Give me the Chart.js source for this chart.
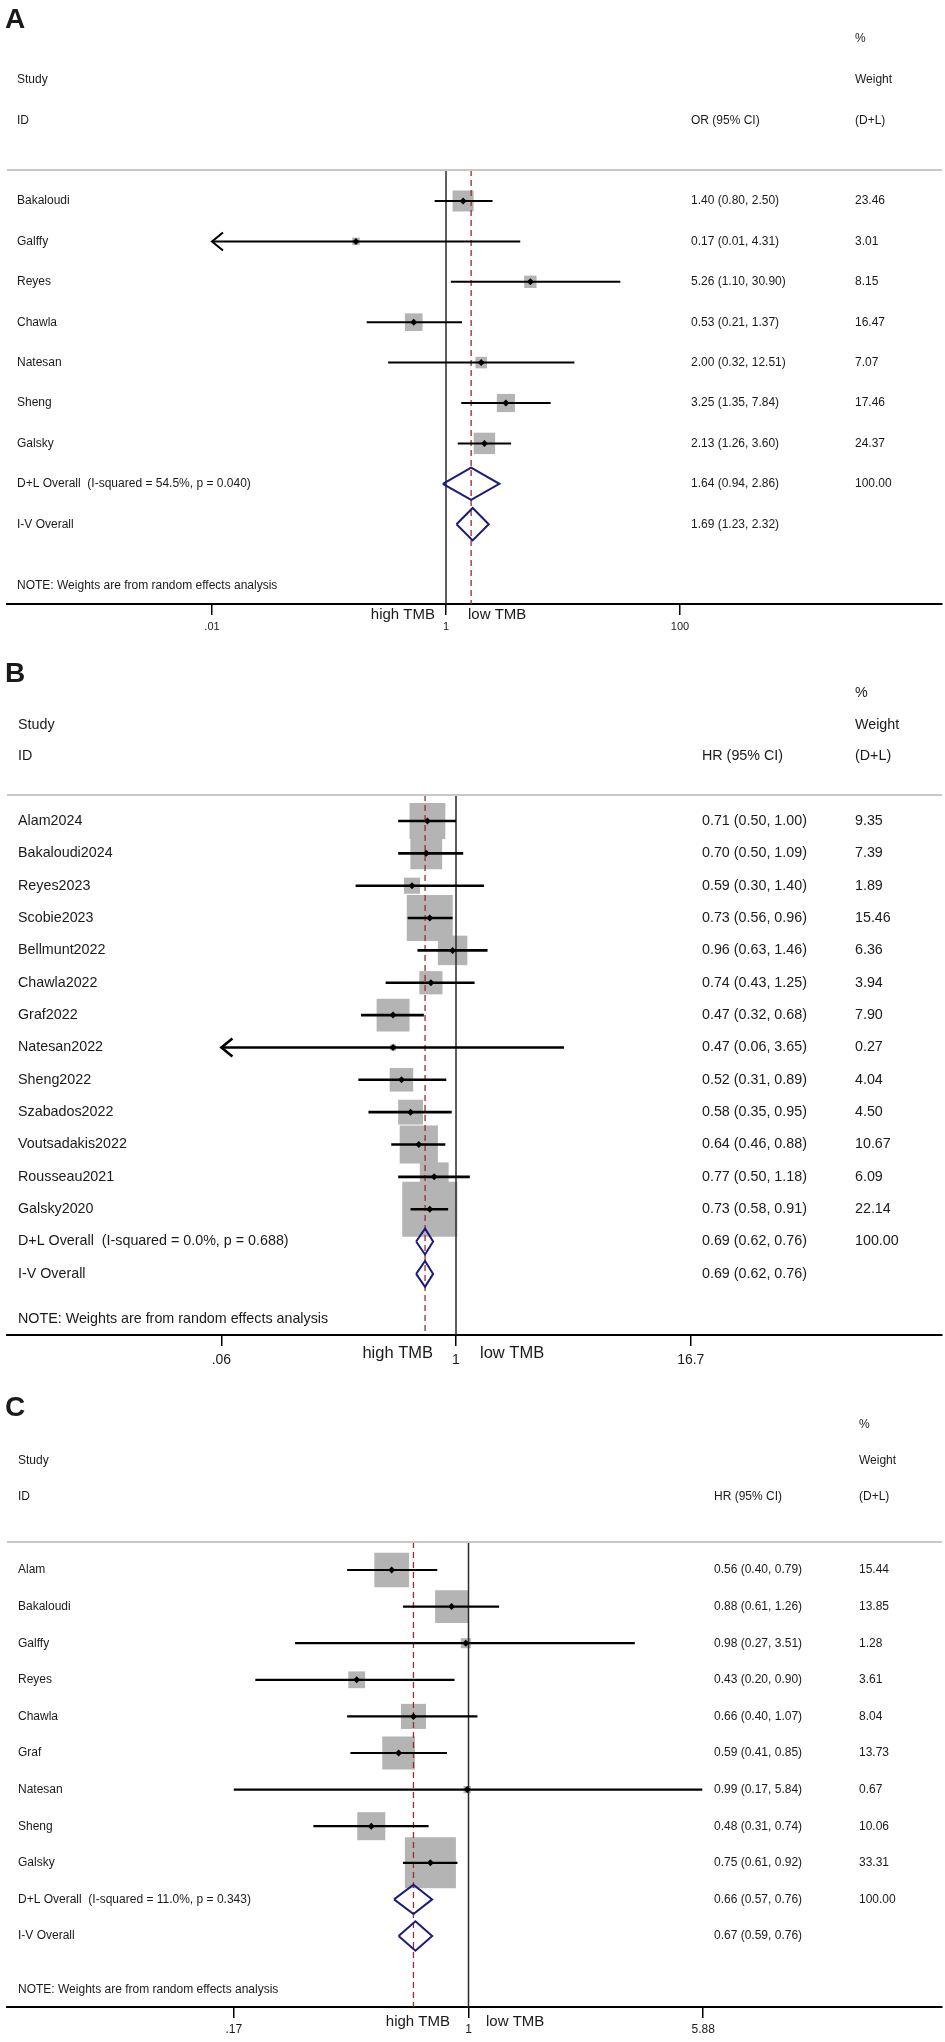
<!DOCTYPE html>
<html>
<head>
<meta charset="utf-8">
<title>TMB forest plots</title>
<script src="https://cdn.jsdelivr.net/npm/chart.js@4.4.1/dist/chart.umd.min.js"></script>
<style>
  body { margin: 0; background: #fff; }
  canvas.panel { position: absolute; left: 0; }
</style>
</head>
<body>
<canvas id="chartA" class="panel" width="945" height="645" style="top:0px"></canvas>
<canvas id="chartB" class="panel" width="945" height="735" style="top:645px"></canvas>
<canvas id="chartC" class="panel" width="945" height="662" style="top:1380px"></canvas>
<script>
// ---- Panel A (OR) ----
const aStudies = ['Bakaloudi', 'Galffy', 'Reyes', 'Chawla', 'Natesan', 'Sheng', 'Galsky'];
const aEst    = [1.40, 0.17, 5.26, 0.53, 2.00, 3.25, 2.13];
const aLow    = [0.80, 0.01, 1.10, 0.21, 0.32, 1.35, 1.26];
const aHigh   = [2.50, 4.31, 30.90, 1.37, 12.51, 7.84, 3.60];
const aWeight = [23.46, 3.01, 8.15, 16.47, 7.07, 17.46, 24.37];
const aArrow  = [false, true, false, false, false, false, false];
const aDL = [1.64, 0.94, 2.86];          // est, low, high
const aIV = [1.69, 1.23, 2.32];
const aHet = [54.5, 0.040];              // I-squared %, p
const aTicks = [0.01, 1, 100];
const aTickLabels = ['.01', '1', '100'];

// ---- Panel B (HR) ----
const bStudies = ['Alam2024', 'Bakaloudi2024', 'Reyes2023', 'Scobie2023', 'Bellmunt2022', 'Chawla2022',
  'Graf2022', 'Natesan2022', 'Sheng2022', 'Szabados2022', 'Voutsadakis2022', 'Rousseau2021', 'Galsky2020'];
const bEst    = [0.71, 0.70, 0.59, 0.73, 0.96, 0.74, 0.47, 0.47, 0.52, 0.58, 0.64, 0.77, 0.73];
const bLow    = [0.50, 0.50, 0.30, 0.56, 0.63, 0.43, 0.32, 0.06, 0.31, 0.35, 0.46, 0.50, 0.58];
const bHigh   = [1.00, 1.09, 1.40, 0.96, 1.46, 1.25, 0.68, 3.65, 0.89, 0.95, 0.88, 1.18, 0.91];
const bWeight = [9.35, 7.39, 1.89, 15.46, 6.36, 3.94, 7.90, 0.27, 4.04, 4.50, 10.67, 6.09, 22.14];
const bArrow  = [false, false, false, false, false, false, false, true, false, false, false, false, false];
const bDL = [0.69, 0.62, 0.76];
const bIV = [0.69, 0.62, 0.76];
const bHet = [0.0, 0.688];
const bTicks = [0.06, 1, 16.7];
const bTickLabels = ['.06', '1', '16.7'];

// ---- Panel C (HR) ----
const cStudies = ['Alam', 'Bakaloudi', 'Galffy', 'Reyes', 'Chawla', 'Graf', 'Natesan', 'Sheng', 'Galsky'];
const cEst    = [0.56, 0.88, 0.98, 0.43, 0.66, 0.59, 0.99, 0.48, 0.75];
const cLow    = [0.40, 0.61, 0.27, 0.20, 0.40, 0.41, 0.17, 0.31, 0.61];
const cHigh   = [0.79, 1.26, 3.51, 0.90, 1.07, 0.85, 5.84, 0.74, 0.92];
const cWeight = [15.44, 13.85, 1.28, 3.61, 8.04, 13.73, 0.67, 10.06, 33.31];
const cArrow  = [false, false, false, false, false, false, false, false, false];
const cDL = [0.66, 0.57, 0.76];
const cIV = [0.67, 0.59, 0.76];
const cHet = [11.0, 0.343];
const cTicks = [0.17, 1, 5.88];
const cTickLabels = ['.17', '1', '5.88'];

const FONT = 'Liberation Sans, Arial, sans-serif';
const TEXT = '#1a1a1a';
Chart.defaults.font.family = FONT;

// layout values are page pixels
const panels = [
  { id: 'chartA', letter: 'A', measure: 'OR (95% CI)',
    studies: aStudies, est: aEst, low: aLow, high: aHigh, weight: aWeight, arrow: aArrow,
    dl: aDL, iv: aIV, het: aHet, ticks: aTicks, tickLabels: aTickLabels,
    top: 0, height: 645, letterY: 20, pctY: 39, studyY: 80, idY: 121,
    lineY: 170, firstRow: 201, rowGap: 40.4, noteY: 586, axisY: 604, tickLabelY: 627, tmbY: 615,
    nameX: 17, estX: 691, wtX: 855, nullX: 446, decade: 117, highRight: 435, lowLeft: 468,
    font: 12, tickFont: 11, tmbFont: 15, boxK: 4.34, ciWidth: 2 },
  { id: 'chartB', letter: 'B', measure: 'HR (95% CI)',
    studies: bStudies, est: bEst, low: bLow, high: bHigh, weight: bWeight, arrow: bArrow,
    dl: bDL, iv: bIV, het: bHet, ticks: bTicks, tickLabels: bTickLabels,
    top: 645, height: 735, letterY: 674, pctY: 693, studyY: 725, idY: 756,
    lineY: 795, firstRow: 821, rowGap: 32.35, noteY: 1319, axisY: 1335, tickLabelY: 1360, tmbY: 1353,
    nameX: 18, estX: 702, wtX: 855, nullX: 456, decade: 192, highRight: 433, lowLeft: 480,
    font: 14.3, tickFont: 14, tmbFont: 16.5, boxK: 11.7, ciWidth: 2.6 },
  { id: 'chartC', letter: 'C', measure: 'HR (95% CI)',
    studies: cStudies, est: cEst, low: cLow, high: cHigh, weight: cWeight, arrow: cArrow,
    dl: cDL, iv: cIV, het: cHet, ticks: cTicks, tickLabels: cTickLabels,
    top: 1380, height: 662, letterY: 1408, pctY: 1425, studyY: 1461, idY: 1497,
    lineY: 1542, firstRow: 1570, rowGap: 36.6, noteY: 1990, axisY: 2007, tickLabelY: 2030, tmbY: 2022,
    nameX: 18, estX: 714, wtX: 859, nullX: 468.5, decade: 305, highRight: 450, lowLeft: 486,
    font: 12, tickFont: 12, tmbFont: 15, boxK: 8.84, ciWidth: 2.2 }
];

const f2 = v => v.toFixed(2);
const ciText = (e, l, h) => `${f2(e)} (${f2(l)}, ${f2(h)})`;

function buildPanel(p) {
  const n = p.studies.length;
  const left = 7, right = 942, tickLen = 11;
  const xMin = Math.pow(10, (left - p.nullX) / p.decade);
  const xMax = Math.pow(10, (right - p.nullX) / p.decade);
  const yMin = (p.lineY - p.firstRow) / p.rowGap;
  const yMax = (p.axisY - p.firstRow) / p.rowGap;
  const tickPad = p.tickLabelY - p.axisY - tickLen - 0.6 * p.tickFont;
  const scaleH = tickLen + 1.2 * p.tickFont + 2 * tickPad;
  const padBottom = Math.max(0, p.height - (p.axisY - p.top) - scaleH);

  const datasets = [];
  // weight boxes
  datasets.push({
    data: p.est.map((v, i) => ({ x: v, y: i })),
    pointStyle: 'rect',
    pointRadius: p.weight.map(w => p.boxK * Math.sqrt(w) / Math.SQRT2),
    pointBackgroundColor: '#b4b4b4', pointBorderWidth: 0, order: 6
  });
  // null line
  datasets.push({
    data: [{ x: 1, y: yMin }, { x: 1, y: yMax }], showLine: true,
    borderColor: '#2a2a2a', borderWidth: 1.5, pointRadius: 0, order: 5
  });
  // overall estimate line
  datasets.push({
    data: [{ x: p.dl[0], y: yMin }, { x: p.dl[0], y: yMax }], showLine: true,
    borderColor: '#9c2a2e', borderWidth: 1.3, borderDash: [6, 4], pointRadius: 0, order: 4
  });
  // confidence intervals
  p.studies.forEach((s, i) => datasets.push({
    data: [{ x: p.low[i], y: i }, { x: p.high[i], y: i }], showLine: true,
    borderColor: '#000', borderWidth: p.ciWidth, pointRadius: 0, order: 3
  }));
  // pooled diamonds
  [p.dl, p.iv].forEach((d, k) => {
    const r = n + k, h = 0.4;
    datasets.push({
      data: [{ x: d[1], y: r }, { x: d[0], y: r - h }, { x: d[2], y: r }, { x: d[0], y: r + h }, { x: d[1], y: r }],
      showLine: true, borderColor: '#1b1b78', borderWidth: 2, borderJoinStyle: 'miter',
      pointRadius: 0, fill: false, order: 2
    });
  });
  // point estimates
  datasets.push({
    data: p.est.map((v, i) => ({ x: v, y: i })),
    pointStyle: 'rectRot', pointRadius: 3.5, pointBackgroundColor: '#000', pointBorderWidth: 0, order: 1
  });

  const textPlugin = {
    id: 'forestText',
    afterDraw(chart) {
      const ctx = chart.ctx, xs = chart.scales.x, ys = chart.scales.y, ca = chart.chartArea;
      const rel = y => y - p.top;
      ctx.save();
      // header rule
      ctx.strokeStyle = '#c8c8c8'; ctx.lineWidth = 2;
      ctx.beginPath(); ctx.moveTo(ca.left, ca.top); ctx.lineTo(ca.right, ca.top); ctx.stroke();
      // arrows for clipped intervals
      ctx.strokeStyle = '#000'; ctx.lineWidth = p.ciWidth;
      p.arrow.forEach((a, i) => {
        if (!a) return;
        const x = xs.getPixelForValue(p.low[i]), y = ys.getPixelForValue(i);
        ctx.beginPath(); ctx.moveTo(x + 11, y - 9); ctx.lineTo(x, y); ctx.lineTo(x + 11, y + 9); ctx.stroke();
      });

      ctx.fillStyle = TEXT; ctx.textBaseline = 'middle'; ctx.textAlign = 'left';
      ctx.font = `bold 28px ${FONT}`;
      ctx.fillText(p.letter, 5, rel(p.letterY));

      ctx.font = `${p.font}px ${FONT}`;
      ctx.fillText('%', p.wtX, rel(p.pctY));
      ctx.fillText('Study', p.nameX, rel(p.studyY));
      ctx.fillText('Weight', p.wtX, rel(p.studyY));
      ctx.fillText('ID', p.nameX, rel(p.idY));
      ctx.fillText(p.measure, p.estX, rel(p.idY));
      ctx.fillText('(D+L)', p.wtX, rel(p.idY));

      p.studies.forEach((s, i) => {
        const y = ys.getPixelForValue(i);
        ctx.fillText(s, p.nameX, y);
        ctx.fillText(ciText(p.est[i], p.low[i], p.high[i]), p.estX, y);
        ctx.fillText(f2(p.weight[i]), p.wtX, y);
      });
      const yDL = ys.getPixelForValue(n), yIV = ys.getPixelForValue(n + 1);
      ctx.fillText(`D+L Overall  (I-squared = ${p.het[0].toFixed(1)}%, p = ${p.het[1].toFixed(3)})`, p.nameX, yDL);
      ctx.fillText(ciText(p.dl[0], p.dl[1], p.dl[2]), p.estX, yDL);
      ctx.fillText('100.00', p.wtX, yDL);
      ctx.fillText('I-V Overall', p.nameX, yIV);
      ctx.fillText(ciText(p.iv[0], p.iv[1], p.iv[2]), p.estX, yIV);
      ctx.fillText('NOTE: Weights are from random effects analysis', p.nameX, rel(p.noteY));

      ctx.font = `${p.tmbFont}px ${FONT}`;
      ctx.textAlign = 'right';
      ctx.fillText('high TMB', p.highRight, rel(p.tmbY));
      ctx.textAlign = 'left';
      ctx.fillText('low TMB', p.lowLeft, rel(p.tmbY));
      ctx.restore();
    }
  };

  return new Chart(document.getElementById(p.id), {
    type: 'scatter',
    data: { datasets },
    options: {
      responsive: false, animation: false, devicePixelRatio: 1,
      layout: {
        autoPadding: false,
        padding: { left: left, right: 945 - right, top: p.lineY - p.top, bottom: padBottom }
      },
      plugins: { legend: { display: false }, tooltip: { enabled: false } },
      scales: {
        x: {
          type: 'logarithmic', min: xMin, max: xMax, bounds: 'data', offset: false,
          afterBuildTicks: axis => { axis.ticks = p.ticks.map(v => ({ value: v })); },
          ticks: {
            autoSkip: false, maxRotation: 0, padding: tickPad, color: TEXT,
            font: { size: p.tickFont },
            callback: (v, i) => p.tickLabels[i]
          },
          grid: { drawOnChartArea: false, drawTicks: true, tickLength: tickLen, color: '#000', lineWidth: 1.5 },
          border: { display: true, color: '#000', width: 2 }
        },
        y: { type: 'linear', min: yMin, max: yMax, reverse: true, display: false }
      }
    },
    plugins: [textPlugin]
  });
}

panels.forEach(buildPanel);
</script>
</body>
</html>
